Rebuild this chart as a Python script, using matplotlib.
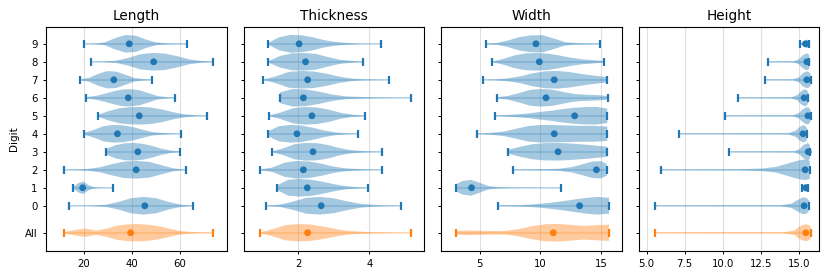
import numpy as np
import matplotlib.pyplot as plt

# rows: digits 0..9, then "All" below a gap
digits = [str(d) for d in range(10)] + ['All']
positions = list(range(10)) + [-1.5]
colors = ['C0'] * 10 + ['C1']

# each violin: knot positions (first = min, last = max), half-widths at those knots, mean
length_x = [
    [13.7, 18.9, 24.1, 29.3, 34.5, 39.8, 45.0, 50.2, 55.4, 60.6, 65.8],
    [15.7, 17.8, 19.9, 22.0, 24.0, 26.1, 28.2, 30.3, 32.3],
    [11.7, 16.8, 21.9, 26.9, 32.0, 37.1, 42.2, 47.3, 52.3, 57.4, 62.5],
    [29.5, 33.3, 37.2, 41.0, 44.8, 48.7, 52.5, 56.3, 60.1],
    [20.1, 24.2, 28.2, 32.3, 36.3, 40.4, 44.5, 48.5, 52.6, 56.6, 60.7],
    [25.9, 30.4, 35.0, 39.5, 44.1, 48.6, 53.1, 57.7, 62.2, 66.8, 71.3],
    [21.1, 24.8, 28.5, 32.2, 35.9, 39.6, 43.3, 47.0, 50.7, 54.4, 58.1],
    [18.3, 22.1, 25.9, 29.7, 33.5, 37.3, 41.1, 44.9, 48.7],
    [23.2, 28.3, 33.4, 38.5, 43.6, 48.7, 53.7, 58.8, 63.9, 69.0, 74.1],
    [20.3, 24.6, 28.9, 33.2, 37.5, 41.8, 46.1, 50.3, 54.6, 58.9, 63.2],
    [11.9, 16.3, 20.8, 25.2, 29.7, 34.1, 38.6, 43.0, 47.4, 51.9, 56.3, 60.8, 65.2, 69.7, 74.1],
]
length_w = [
    [0.01, 0.01, 0.02, 0.06, 0.21, 0.42, 0.49, 0.42, 0.21, 0.06, 0.01],
    [0.04, 0.26, 0.35, 0.15, 0.05, 0.02, 0.015, 0.01, 0.01],
    [0.01, 0.02, 0.05, 0.14, 0.32, 0.46, 0.49, 0.44, 0.26, 0.08, 0.01],
    [0.16, 0.37, 0.47, 0.49, 0.44, 0.32, 0.17, 0.07, 0.02],
    [0.05, 0.21, 0.42, 0.49, 0.47, 0.38, 0.23, 0.1, 0.05, 0.02, 0.01],
    [0.05, 0.26, 0.42, 0.48, 0.49, 0.45, 0.34, 0.19, 0.08, 0.03, 0.01],
    [0.04, 0.1, 0.21, 0.35, 0.46, 0.48, 0.42, 0.26, 0.1, 0.04, 0.01],
    [0.02, 0.1, 0.32, 0.48, 0.46, 0.29, 0.1, 0.04, 0.01],
    [0.01, 0.02, 0.06, 0.21, 0.42, 0.49, 0.46, 0.32, 0.14, 0.05, 0.01],
    [0.01, 0.02, 0.08, 0.32, 0.49, 0.45, 0.23, 0.08, 0.03, 0.02, 0.01],
    [0.04, 0.15, 0.23, 0.12, 0.23, 0.4, 0.47, 0.48, 0.44, 0.35, 0.21, 0.09, 0.04, 0.02, 0.01],
]
length_mean = [45.5, 19.6, 41.9, 42.6, 34.1, 43.2, 38.6, 32.6, 49.2, 39.0, 39.6]

thick_x = [
    [1.10, 1.48, 1.86, 2.23, 2.61, 2.99, 3.37, 3.75, 4.12, 4.50, 4.88],
    [1.40, 1.72, 2.04, 2.36, 2.68, 3.01, 3.33, 3.65, 3.97],
    [0.93, 1.27, 1.62, 1.96, 2.31, 2.65, 2.99, 3.34, 3.68, 4.03, 4.37],
    [1.28, 1.59, 1.90, 2.21, 2.52, 2.83, 3.13, 3.44, 3.75, 4.06, 4.37],
    [1.15, 1.46, 1.78, 2.09, 2.41, 2.72, 3.04, 3.35, 3.67],
    [1.18, 1.52, 1.86, 2.19, 2.53, 2.87, 3.21, 3.54, 3.88],
    [1.49, 1.86, 2.23, 2.59, 2.96, 3.33, 3.70, 4.07, 4.43, 4.80, 5.17],
    [1.03, 1.38, 1.74, 2.09, 2.44, 2.80, 3.15, 3.50, 3.85, 4.21, 4.56],
    [1.16, 1.49, 1.83, 2.16, 2.50, 2.83, 3.16, 3.50, 3.83],
    [1.16, 1.48, 1.79, 2.11, 2.42, 2.74, 3.06, 3.37, 3.69, 4.01, 4.32],
    [0.93, 1.28, 1.64, 1.99, 2.34, 2.70, 3.05, 3.40, 3.76, 4.11, 4.46, 4.82, 5.17],
]
thick_w = [
    [0.01, 0.06, 0.23, 0.44, 0.49, 0.42, 0.25, 0.11, 0.05, 0.02, 0.01],
    [0.12, 0.44, 0.49, 0.45, 0.34, 0.2, 0.09, 0.04, 0.01],
    [0.02, 0.12, 0.39, 0.49, 0.46, 0.34, 0.18, 0.08, 0.04, 0.02, 0.01],
    [0.03, 0.19, 0.42, 0.49, 0.48, 0.38, 0.22, 0.1, 0.05, 0.02, 0.01],
    [0.13, 0.42, 0.49, 0.46, 0.34, 0.19, 0.08, 0.03, 0.01],
    [0.02, 0.19, 0.42, 0.49, 0.46, 0.34, 0.16, 0.06, 0.01],
    [0.3, 0.49, 0.46, 0.34, 0.18, 0.08, 0.05, 0.03, 0.02, 0.01, 0.01],
    [0.02, 0.19, 0.44, 0.49, 0.46, 0.34, 0.18, 0.07, 0.03, 0.02, 0.01],
    [0.03, 0.32, 0.47, 0.49, 0.44, 0.27, 0.12, 0.05, 0.01],
    [0.05, 0.37, 0.49, 0.47, 0.36, 0.2, 0.1, 0.05, 0.02, 0.01, 0.01],
    [0.02, 0.19, 0.42, 0.48, 0.46, 0.35, 0.21, 0.1, 0.06, 0.03, 0.02, 0.01, 0.01],
]
thick_mean = [2.65, 2.26, 2.15, 2.42, 1.97, 2.39, 2.15, 2.27, 2.21, 2.03, 2.27]

width_x = [
    [6.54, 7.45, 8.37, 9.28, 10.19, 11.10, 12.02, 12.93, 13.84, 14.75, 15.66],
    [3.05, 3.6, 4.3, 5.0, 5.7, 6.5, 7.5, 9.0, 10.5, 11.73],
    [7.72, 9.0, 10.5, 11.6, 12.6, 13.5, 14.3, 15.0, 15.47],
    [7.31, 8.34, 9.36, 10.39, 11.42, 12.44, 13.47, 14.49, 15.52],
    [4.81, 5.88, 6.95, 8.02, 9.09, 10.17, 11.24, 12.31, 13.38, 14.45, 15.52],
    [6.24, 7.17, 8.10, 9.02, 9.95, 10.88, 11.81, 12.74, 13.66, 14.59, 15.52],
    [6.40, 7.32, 8.24, 9.16, 10.08, 11.00, 11.92, 12.84, 13.76, 14.68, 15.60],
    [5.30, 6.32, 7.33, 8.35, 9.37, 10.39, 11.40, 12.42, 13.44, 14.45, 15.47],
    [6.04, 6.96, 7.89, 8.81, 9.73, 10.66, 11.58, 12.50, 13.42, 14.35, 15.27],
    [5.49, 6.43, 7.37, 8.31, 9.25, 10.19, 11.13, 12.07, 13.01, 13.95, 14.89],
    [3.05, 4.10, 5.15, 6.20, 7.25, 8.30, 9.35, 10.40, 11.46, 12.51, 13.56, 14.61, 15.66],
]
width_w = [
    [0.02, 0.03, 0.04, 0.07, 0.12, 0.19, 0.27, 0.36, 0.44, 0.49, 0.44],
    [0.2, 0.38, 0.44, 0.28, 0.1, 0.04, 0.02, 0.015, 0.01, 0.01],
    [0.02, 0.025, 0.035, 0.06, 0.15, 0.31, 0.46, 0.48, 0.33],
    [0.1, 0.28, 0.42, 0.48, 0.49, 0.46, 0.41, 0.35, 0.28],
    [0.01, 0.05, 0.12, 0.28, 0.44, 0.49, 0.48, 0.46, 0.44, 0.44, 0.4],
    [0.02, 0.04, 0.08, 0.13, 0.21, 0.28, 0.37, 0.44, 0.48, 0.49, 0.4],
    [0.03, 0.1, 0.26, 0.44, 0.49, 0.45, 0.32, 0.21, 0.17, 0.15, 0.1],
    [0.01, 0.03, 0.08, 0.19, 0.36, 0.47, 0.49, 0.43, 0.32, 0.23, 0.15],
    [0.02, 0.16, 0.36, 0.47, 0.49, 0.45, 0.35, 0.23, 0.14, 0.09, 0.05],
    [0.02, 0.05, 0.19, 0.38, 0.47, 0.48, 0.29, 0.09, 0.04, 0.03, 0.02],
    [0.1, 0.13, 0.11, 0.09, 0.11, 0.21, 0.37, 0.47, 0.49, 0.44, 0.38, 0.42, 0.45],
]
width_mean = [13.24, 4.34, 14.62, 11.46, 11.15, 12.83, 10.47, 11.15, 9.92, 9.64, 11.07]

height_x = [
    [5.54, 13.8, 14.5, 14.9, 15.25, 15.5, 15.68],
    [15.18, 15.3, 15.45, 15.55, 15.61],
    [5.93, 11.0, 12.6, 13.5, 14.0, 14.6, 15.1, 15.45, 15.72],
    [10.4, 14.7, 15.05, 15.3, 15.55, 15.65, 15.72],
    [7.12, 14.3, 14.8, 15.1, 15.3, 15.45, 15.56],
    [10.15, 14.6, 15.0, 15.25, 15.5, 15.65, 15.77],
    [11.0, 14.5, 14.9, 15.1, 15.35, 15.5, 15.61],
    [12.79, 14.65, 15.02, 15.25, 15.5, 15.65, 15.77],
    [12.99, 14.67, 15.01, 15.25, 15.5, 15.6, 15.68],
    [15.09, 15.24, 15.38, 15.53, 15.68],
    [5.54, 14.0, 14.7, 15.05, 15.4, 15.6, 15.77],
]
height_w = [
    [0.02, 0.03, 0.12, 0.31, 0.47, 0.44, 0.27],
    [0.04, 0.12, 0.24, 0.16, 0.06],
    [0.02, 0.03, 0.07, 0.16, 0.28, 0.43, 0.54, 0.57, 0.5],
    [0.02, 0.03, 0.15, 0.37, 0.48, 0.45, 0.35],
    [0.02, 0.03, 0.18, 0.41, 0.48, 0.42, 0.26],
    [0.02, 0.03, 0.15, 0.36, 0.48, 0.45, 0.31],
    [0.02, 0.03, 0.15, 0.33, 0.47, 0.44, 0.31],
    [0.02, 0.03, 0.15, 0.36, 0.47, 0.44, 0.33],
    [0.02, 0.03, 0.15, 0.36, 0.47, 0.44, 0.35],
    [0.02, 0.08, 0.18, 0.24, 0.15],
    [0.02, 0.03, 0.12, 0.35, 0.47, 0.45, 0.35],
]
height_mean = [15.34, 15.45, 15.41, 15.61, 15.27, 15.59, 15.34, 15.52, 15.52, 15.43, 15.45]

panels = [
    ('Length', length_x, length_w, length_mean, [20, 40, 60], (4.3, 79.6)),
    ('Thickness', thick_x, thick_w, thick_mean, [2, 4], (0.47, 5.54)),
    ('Width', width_x, width_w, width_mean, [5, 10, 15], (1.83, 16.7)),
    ('Height', height_x, height_w, height_mean, [5, 7.5, 10, 12.5, 15], (4.48, 16.33)),
]

fig, axes = plt.subplots(1, 4, figsize=(8.3, 2.79), dpi=100, sharey=True)
fig.subplots_adjust(left=0.0554, right=0.987, top=0.903, bottom=0.10, wspace=0.094)

pos = np.array(positions)
for ax, (title, xs, ws, means, ticks, lim) in zip(axes, panels):
    stats = []
    for x, w, m in zip(xs, ws, means):
        stats.append(dict(coords=np.array(x), vals=np.array(w), mean=m,
                          median=m, min=x[0], max=x[-1]))
    widths = [2 * max(w) for w in ws]
    parts = ax.violin(stats, positions=positions, widths=widths,
                      orientation='horizontal', showextrema=False)
    for body, c in zip(parts['bodies'], colors):
        body.set_facecolor(c)
        body.set_edgecolor('none')
        body.set_alpha(0.4)

    # extrema: faint bar plus solid end caps, then the mean dot
    mins = [x[0] for x in xs]
    maxs = [x[-1] for x in xs]
    ax.hlines(positions, mins, maxs, colors=colors, lw=1.4, alpha=0.22)
    ax.vlines(mins, pos - 0.22, pos + 0.22, colors=colors, lw=1.6)
    ax.vlines(maxs, pos - 0.22, pos + 0.22, colors=colors, lw=1.6)
    ax.scatter(means, positions, c=colors, s=15, zorder=3)

    ax.set_title(title, fontsize=9.8, pad=5)
    ax.set_xticks(ticks)
    ax.set_xlim(*lim)
    ax.grid(axis='x', color='#e0e0e0', lw=0.8)
    ax.set_axisbelow(True)
    ax.tick_params(labelsize=7.3, length=2.5, width=0.7)
    for s in ax.spines.values():
        s.set_linewidth(0.8)

axes[0].set_yticks(positions)
axes[0].set_yticklabels(digits)
axes[0].set_ylim(-2.52, 9.93)
axes[0].set_ylabel('Digit', fontsize=7.5)

plt.savefig('out.png', dpi=100)
